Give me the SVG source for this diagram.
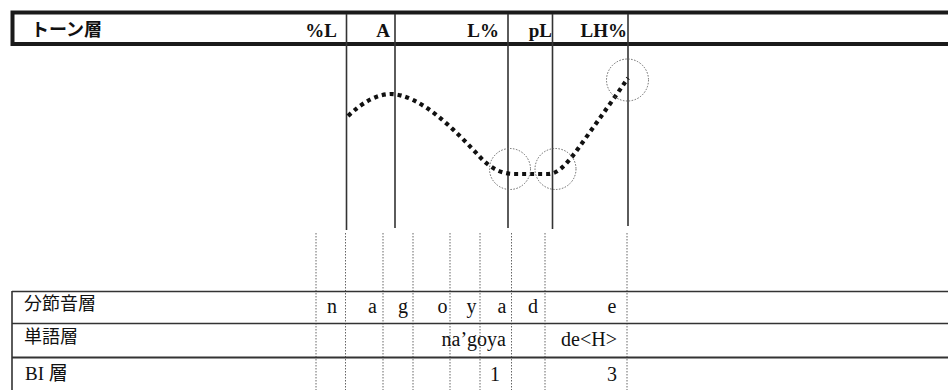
<svg xmlns="http://www.w3.org/2000/svg" width="948" height="390" viewBox="0 0 948 390">
<style>
.lat{font-family:"Liberation Serif","Noto Sans CJK JP",serif;fill:#111}
.hd{font-size:19px;font-weight:bold;text-anchor:end}
.seg{font-size:20px;text-anchor:middle}
.rt{font-size:20px;text-anchor:end}
.jp{font-family:"Noto Sans CJK JP",sans-serif;font-size:18px;font-weight:normal;fill:#111}
.jpb{font-weight:bold}
.solid{stroke:#333;stroke-width:1.6;fill:none}
.dot{stroke:#666;stroke-width:1;stroke-dasharray:1.5 1.5;fill:none}
.ring{stroke:#666;stroke-width:1;stroke-dasharray:1.5 1.5;fill:none}
.rule{stroke:#333;fill:none}
</style>
<rect width="948" height="390" fill="#fff"/>
<g id="tone-layer">
<rect x="12.5" y="12.5" width="960" height="31.5" fill="none" stroke="#1a1a1a" stroke-width="4"/>
<text class="jp jpb" x="31" y="36">トーン層</text>
<text class="lat hd" x="337" y="37">%L</text>
<text class="lat hd" x="390" y="37">A</text>
<text class="lat hd" x="499" y="37">L%</text>
<text class="lat hd" x="552" y="37">pL</text>
<text class="lat hd" x="627" y="37">LH%</text>
</g>
<g id="connectors">
<line class="solid" x1="346.5" y1="14" x2="346.5" y2="230"/>
<line class="solid" x1="395" y1="14" x2="395" y2="228"/>
<line class="solid" x1="508" y1="14" x2="508" y2="228"/>
<line class="solid" x1="552.5" y1="14" x2="552.5" y2="229"/>
<line class="solid" x1="628" y1="14" x2="628" y2="226"/>
<line class="dot" x1="316" y1="233" x2="316" y2="390"/>
<line class="dot" x1="345.5" y1="233" x2="345.5" y2="390"/>
<line class="dot" x1="383" y1="233" x2="383" y2="390"/>
<line class="dot" x1="413" y1="233" x2="413" y2="390"/>
<line class="dot" x1="450" y1="233" x2="450" y2="390"/>
<line class="dot" x1="480" y1="233" x2="480" y2="390"/>
<line class="dot" x1="511.5" y1="233" x2="511.5" y2="390"/>
<line class="dot" x1="545" y1="233" x2="545" y2="390"/>
<line class="dot" x1="627" y1="233" x2="627" y2="390"/>
</g>
<g id="pitch-contour">
<path d="M348,116 Q370,95 390,94 C420,94 455,130 480,157 C492,170 503,174 515,174 L548,174 C560,174 570,160 585,139 S615,97 628,78" fill="none" stroke="#111" stroke-width="4.2" stroke-dasharray="4 4"/>
<circle class="ring" cx="510" cy="169" r="20.5"/>
<circle class="ring" cx="555.5" cy="169" r="20.5"/>
<circle class="ring" cx="627.5" cy="80" r="21"/>
</g>
<g id="tiers">
<line class="rule" x1="12" y1="291.5" x2="948" y2="291.5" stroke-width="1.6"/>
<line class="rule" x1="12" y1="323.5" x2="948" y2="323.5" stroke-width="1.6"/>
<line class="rule" x1="12" y1="357.5" x2="948" y2="357.5" stroke-width="2.2"/>
<line class="rule" x1="12" y1="291" x2="12" y2="390" stroke-width="1.6"/>
</g>
<g id="segment-layer">
<text class="jp" x="24" y="310">分節音層</text>
<text class="lat seg" x="332" y="313">n</text>
<text class="lat seg" x="372.5" y="313">a</text>
<text class="lat seg" x="403" y="313">g</text>
<text class="lat seg" x="442.5" y="313">o</text>
<text class="lat seg" x="471.5" y="313">y</text>
<text class="lat seg" x="502" y="313">a</text>
<text class="lat seg" x="533" y="313">d</text>
<text class="lat seg" x="612" y="313">e</text>
</g>
<g id="word-layer">
<text class="jp" x="24" y="343">単語層</text>
<text class="lat rt" x="506" y="346">na’goya</text>
<text class="lat rt" x="617" y="346">de&lt;H&gt;</text>
</g>
<g id="bi-layer">
<text class="lat" x="25" y="380" font-size="19">BI 層</text>
<text class="lat rt" x="500" y="381">1</text>
<text class="lat rt" x="617" y="381">3</text>
</g>
</svg>
